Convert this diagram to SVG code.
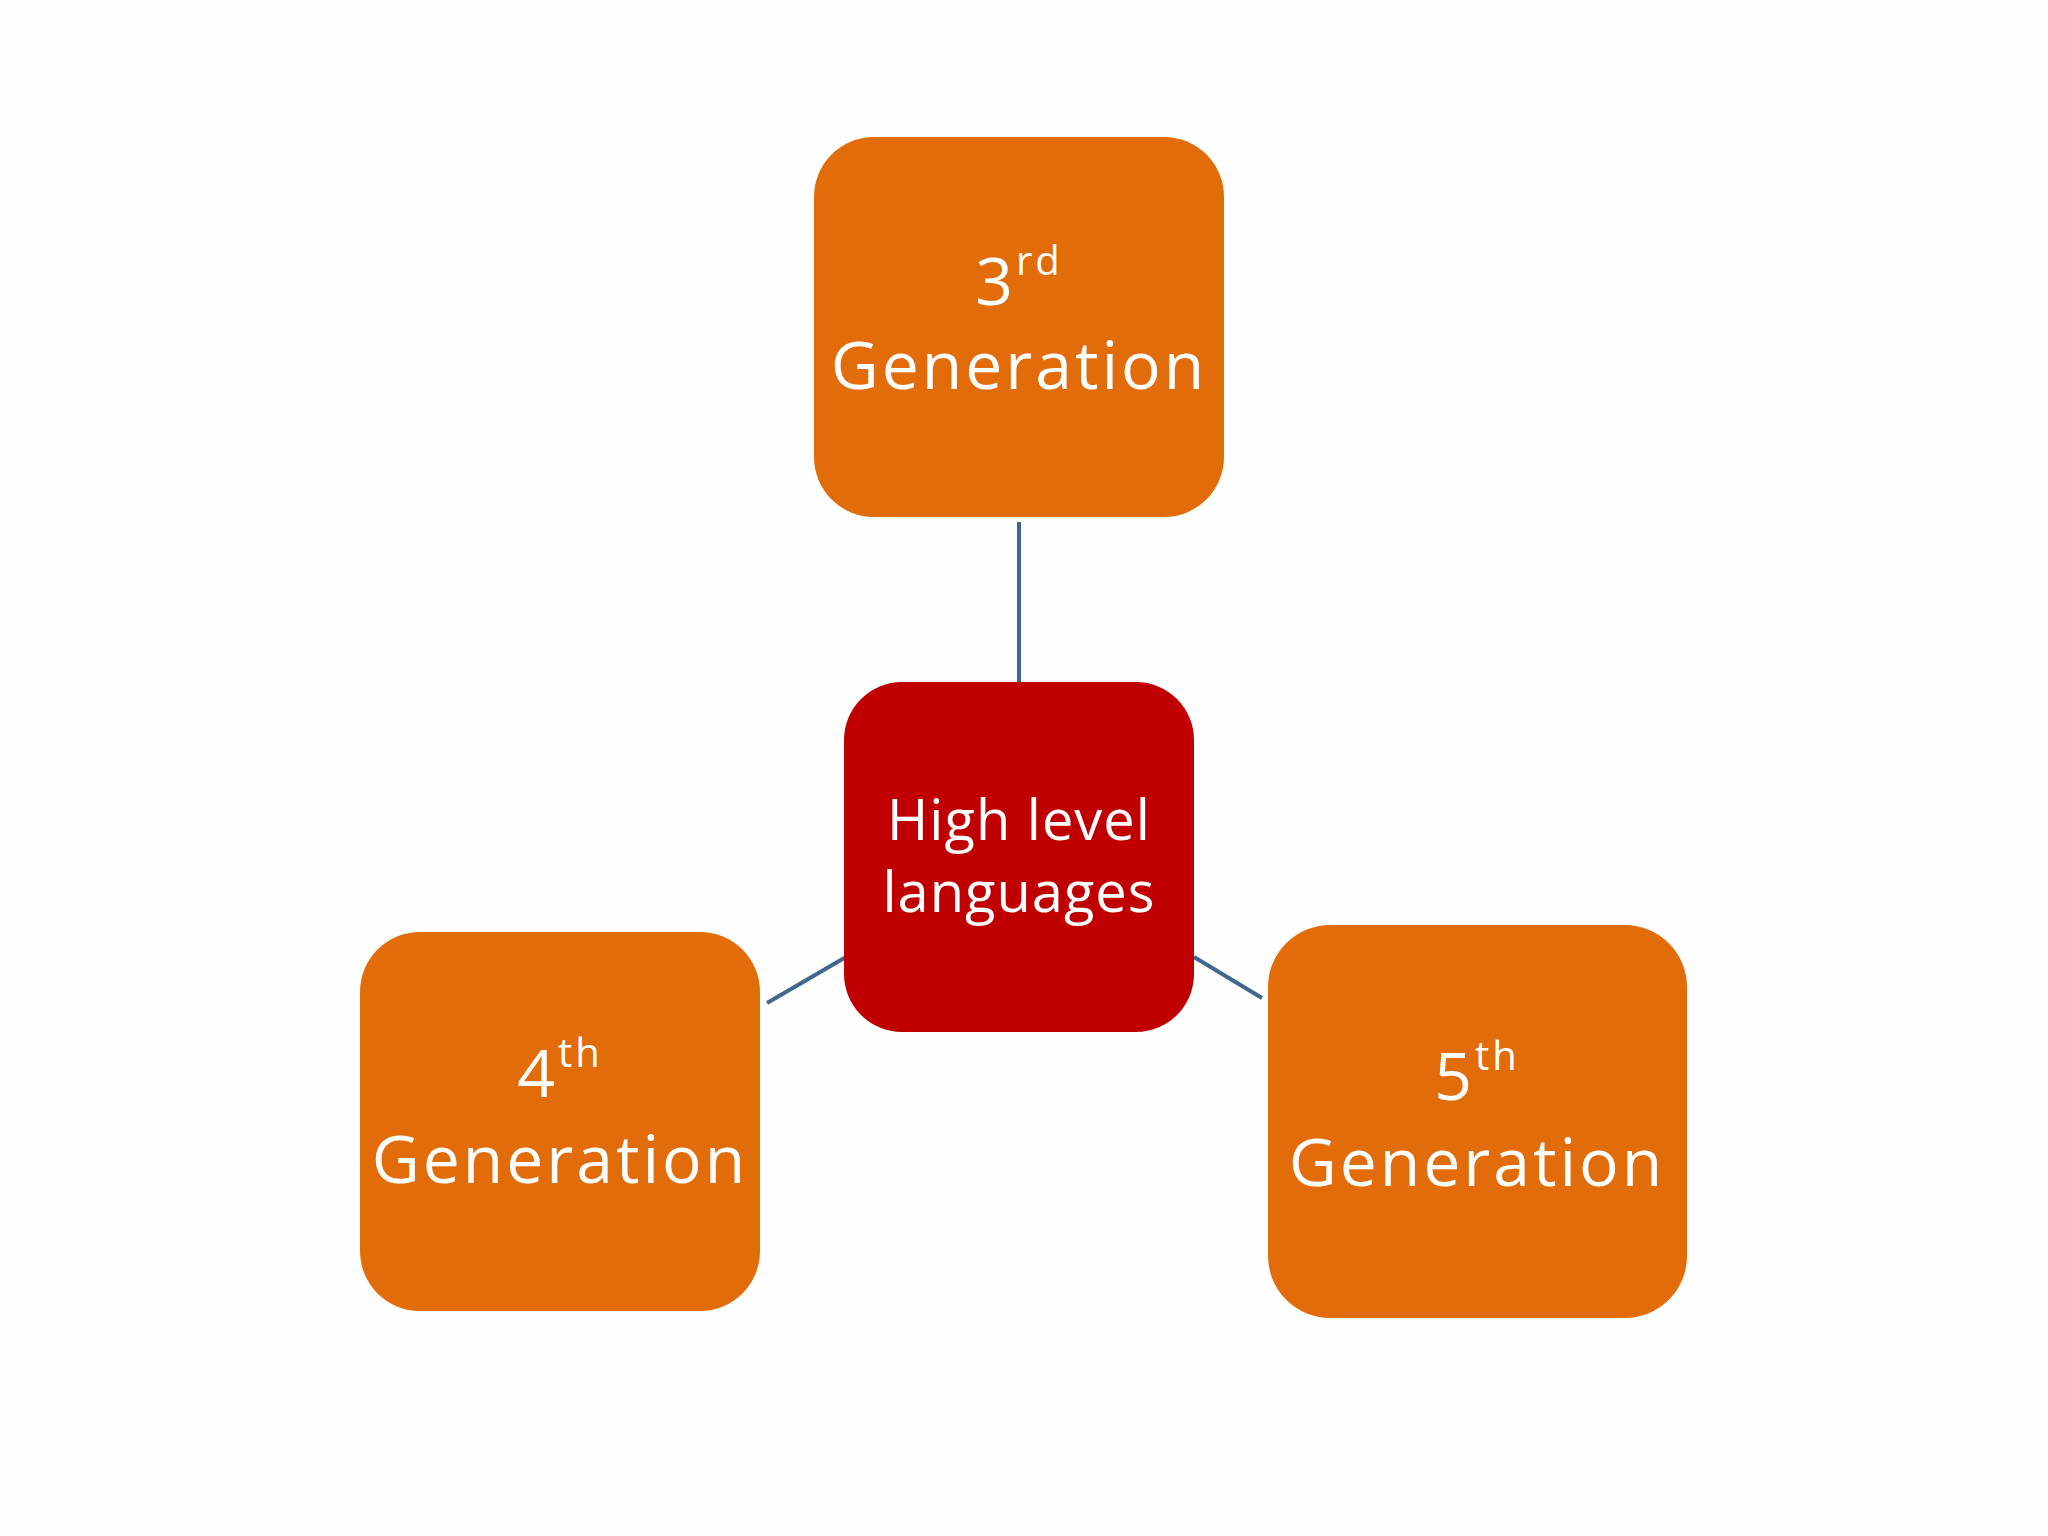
<svg xmlns="http://www.w3.org/2000/svg" width="2048" height="1536" viewBox="0 0 2048 1536">
<style>
.o{fill:#E36C0A}
.r{fill:#C00000}
text{font-family:"Open Sans","Noto Sans",sans-serif;fill:#fff;text-anchor:middle;letter-spacing:3px}
.g{font-size:66px}
.h{font-size:56px;letter-spacing:1px}
.s{font-size:40px}
#connectors line{stroke:#41668F;stroke-width:4}
</style>
<rect width="2048" height="1536" fill="#FEFEFE"/>
<g id="connectors">
<line x1="1019" y1="522" x2="1019" y2="684"/>
<line x1="767" y1="1003" x2="846" y2="957"/>
<line x1="1194" y1="957" x2="1262" y2="998"/>
</g>
<g id="n3">
<rect class="o" x="814" y="137" width="410" height="380" rx="60"/>
<text class="g" x="1019" y="305">3<tspan class="s" dy="-30">rd</tspan></text>
<text class="g" x="1019" y="389">Generation</text>
</g>
<g id="center">
<rect class="r" x="844" y="682" width="350" height="350" rx="58"/>
<text class="h" x="1019" y="840">High level</text>
<text class="h" x="1019" y="912">languages</text>
</g>
<g id="n4">
<rect class="o" x="360" y="932" width="400" height="379" rx="60"/>
<text class="g" x="560" y="1097">4<tspan class="s" dy="-30">th</tspan></text>
<text class="g" x="560" y="1183">Generation</text>
</g>
<g id="n5">
<rect class="o" x="1268" y="925" width="419" height="393" rx="62"/>
<text class="g" x="1477" y="1100">5<tspan class="s" dy="-30">th</tspan></text>
<text class="g" x="1477" y="1186">Generation</text>
</g>
</svg>
